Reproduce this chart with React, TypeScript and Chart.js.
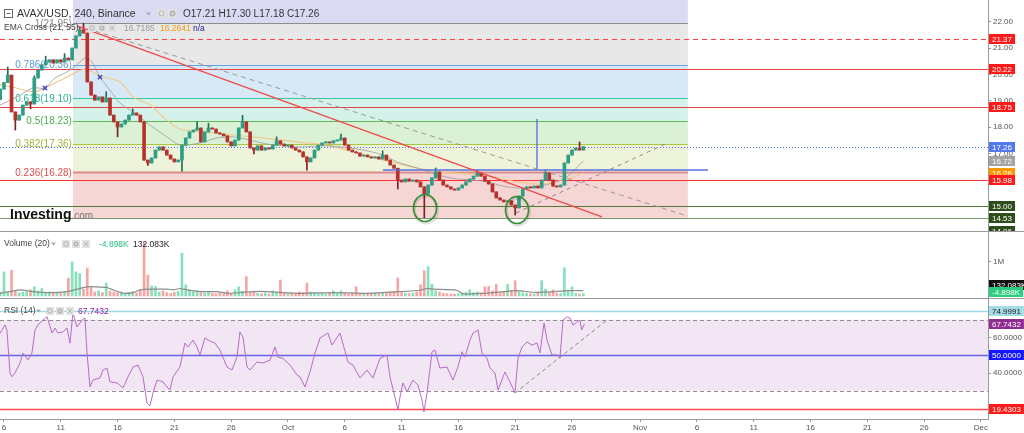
import React, { useEffect, useRef } from "react";
import { Chart, registerables } from "chart.js";
Chart.register(...registerables);

// ---------------- DATA ----------------
// time axis: days counted from Sep 6 (00:00)
const dateTickDays = [0, 5, 10, 15, 20, 25, 30, 35, 40, 45, 50, 56, 61, 66, 71, 76, 81, 86];
const dateTickLabels = ["6", "11", "16", "21", "26", "Oct", "6", "11", "16", "21", "26", "Nov", "6", "11", "16", "21", "26", "Dec"];

// candles (8h bars)
const firstCandleDay = -1 / 3;
const candleStepDays = 1 / 3;
const firstOpen = 19.05;
const closes = [
  19.45, 19.70, 19.98, 18.58, 18.27, 18.46, 18.84, 18.96, 18.88, 19.87,
  20.17, 20.37, 20.48, 20.56, 20.44, 20.56, 20.48, 20.63, 20.56, 21.01,
  21.47, 21.70, 21.58, 19.72, 19.22, 19.03, 19.15, 18.96, 19.11, 18.46,
  18.20, 18.01, 18.12, 18.27, 18.46, 18.54, 18.46, 18.20, 16.75, 16.64,
  16.83, 17.13, 17.25, 17.13, 16.94, 16.79, 16.68, 16.75, 17.32, 17.59,
  17.82, 17.89, 17.97, 17.44, 17.82, 17.97, 17.93, 17.78, 17.74, 17.67,
  17.44, 17.29, 17.51, 17.97, 18.20, 17.82, 17.21, 17.13, 17.29, 17.13,
  17.21, 17.17, 17.32, 17.48, 17.36, 17.29, 17.32, 17.21, 17.13, 17.06,
  16.87, 16.68, 16.83, 17.13, 17.32, 17.40, 17.44, 17.40, 17.48, 17.51,
  17.59, 17.32, 17.13, 17.06, 17.02, 16.90, 16.94, 16.87, 16.83, 16.87,
  16.79, 16.94, 16.75, 16.56, 16.44, 15.99, 15.92, 16.03, 15.95, 15.99,
  15.92, 15.73, 15.46, 15.80, 16.07, 16.30, 15.99, 15.80, 15.73, 15.65,
  15.61, 15.69, 15.80, 15.92, 16.03, 16.14, 16.26, 16.14, 15.95, 15.84,
  15.54, 15.31, 15.23, 15.16, 15.20, 15.04, 14.93, 15.38, 15.65, 15.73,
  15.69, 15.76, 15.69, 15.99, 16.26, 15.99, 15.76, 15.73, 15.80, 16.64,
  16.94, 17.13, 17.21, 17.13, 17.26,
];
const wickHighIdx = [2, 9, 12, 17, 21, 22, 28, 35, 52, 55, 64, 73, 90, 101, 115, 126, 144, 153];
const wickHighVal = [20.29, 19.95, 20.70, 20.80, 21.80, 21.95, 19.35, 18.70, 18.20, 18.15, 18.45, 17.63, 17.74, 17.10, 16.45, 16.37, 16.37, 17.44];
const wickLowIdx = [4, 8, 31, 39, 48, 67, 81, 105, 112, 136];
const wickLowVal = [17.89, 18.70, 17.63, 16.55, 16.33, 16.98, 16.37, 15.65, 14.55, 14.66];

// volume (millions) per bar
const volumes = [
  0.12, 0.71, 0.10, 0.76, 0.14, 0.09, 0.11, 0.13, 0.18, 0.27,
  0.15, 0.22, 0.10, 0.12, 0.08, 0.11, 0.09, 0.13, 0.53, 1.00,
  0.71, 0.66, 0.20, 0.82, 0.25, 0.12, 0.15, 0.10, 0.38, 0.14,
  0.11, 0.09, 0.12, 0.08, 0.10, 0.13, 0.09, 0.16, 1.56, 0.62,
  0.30, 0.28, 0.12, 0.15, 0.10, 0.08, 0.11, 0.14, 1.26, 0.33,
  0.18, 0.12, 0.15, 0.10, 0.09, 0.11, 0.08, 0.07, 0.09, 0.06,
  0.15, 0.08, 0.18, 0.27, 0.14, 0.57, 0.10, 0.12, 0.08, 0.07,
  0.09, 0.06, 0.15, 0.10, 0.47, 0.08, 0.07, 0.09, 0.06, 0.12,
  0.10, 0.38, 0.12, 0.09, 0.07, 0.08, 0.06, 0.09, 0.15, 0.07,
  0.15, 0.08, 0.06, 0.09, 0.27, 0.07, 0.05, 0.08, 0.06, 0.09,
  0.07, 0.10, 0.08, 0.12, 0.14, 0.53, 0.10, 0.08, 0.07, 0.09,
  0.12, 0.33, 0.74, 0.86, 0.35, 0.15, 0.12, 0.08, 0.07, 0.06,
  0.05, 0.07, 0.09, 0.11, 0.18, 0.10, 0.12, 0.09, 0.27, 0.28,
  0.15, 0.34, 0.10, 0.12, 0.34, 0.16, 0.45, 0.12, 0.09, 0.08,
  0.07, 0.06, 0.09, 0.45, 0.20, 0.10, 0.18, 0.08, 0.07, 0.83,
  0.15, 0.27, 0.08, 0.06, 0.07,
];
const volMaDays = [-0.35, 0.53, 1.41, 2.55, 4.05, 5.55, 6.43, 7.31, 8.19, 9.07, 9.6, 10.48, 11.36, 11.97, 12.85, 14.35, 14.88, 15.49, 16.11, 17.25, 18.75, 19.63, 20.77, 21.92, 23.15, 24.56, 26.06, 28.96, 31.95, 34.86, 36.62, 37.24, 37.77, 39.87, 40.41, 42.17, 43.66, 45.16, 46.57, 48.06, 49.56, 51.0];
const volMa = [0.08, 0.13, 0.18, 0.13, 0.10, 0.13, 0.20, 0.27, 0.27, 0.25, 0.18, 0.08, 0.10, 0.18, 0.20, 0.20, 0.18, 0.22, 0.18, 0.13, 0.13, 0.08, 0.10, 0.13, 0.13, 0.10, 0.08, 0.10, 0.08, 0.13, 0.17, 0.22, 0.20, 0.17, 0.06, 0.08, 0.12, 0.16, 0.11, 0.12, 0.16, 0.16];

// EMA cross (21, 55)
const emaFastDays = [-0.35, 1.14, 2.55, 3.61, 4.49, 5.55, 6.43, 7.13, 7.75, 8.45, 9.33, 10.21, 11.36, 12.85, 14.35, 15.49, 17.25, 18.75, 20.16, 21.65, 23.15, 24.56, 26.06, 28.7, 31.6, 33.36, 34.6, 36.36, 39.26, 42.17, 44.28, 46.04, 48.33, 49.56, 51.0];
const emaFast = [18.84, 19.15, 19.49, 19.49, 19.87, 20.10, 20.37, 20.63, 20.48, 19.90, 19.41, 18.92, 18.58, 18.08, 17.63, 17.32, 17.40, 17.59, 17.63, 17.51, 17.36, 17.29, 17.25, 17.29, 17.13, 16.94, 16.68, 16.45, 16.07, 15.95, 15.73, 15.69, 15.88, 16.11, 16.72];
const emaSlowDays = [-0.35, 1.0, 2.55, 3.61, 5.55, 7.13, 8.45, 10.21, 11.36, 12.85, 14.0, 15.49, 18.4, 22.8, 25.79, 28.7, 33.36, 37.76, 42.17, 45.16, 47.18, 49.56, 51.0];
const emaSlow = [19.60, 19.50, 19.34, 19.49, 19.91, 20.21, 19.95, 19.72, 19.15, 18.85, 18.39, 17.93, 17.78, 17.59, 17.44, 17.29, 16.75, 16.33, 16.18, 15.92, 15.84, 16.03, 16.26];
const crossDays = [3.61, 8.45];
const crossValues = [19.49, 19.90];

// RSI (14)
const rsiDays = [-0.35, 0.09, 0.26, 0.53, 0.7, 0.97, 1.41, 1.67, 2.11, 2.46, 2.73, 2.99, 3.43, 3.79, 4.23, 4.49, 4.75, 5.19, 5.55, 5.81, 6.07, 6.43, 6.87, 7.13, 7.31, 7.57, 7.83, 8.45, 8.71, 9.07, 9.33, 9.95, 10.48, 10.92, 11.36, 11.8, 12.24, 12.59, 12.85, 13.12, 13.47, 14.0, 14.35, 14.61, 14.88, 15.49, 15.93, 16.2, 16.64, 16.99, 17.25, 17.69, 18.13, 18.57, 19.01, 19.63, 20.07, 20.51, 20.77, 21.04, 21.39, 21.65, 22.27, 22.8, 23.42, 23.86, 24.12, 24.56, 25.18, 25.79, 26.06, 26.5, 26.94, 27.38, 27.82, 28.52, 28.87, 29.58, 30.28, 30.72, 31.34, 31.95, 32.48, 33.1, 33.71, 33.98, 34.42, 34.68, 34.86, 35.12, 35.48, 36.0, 36.44, 36.8, 36.97, 37.24, 37.68, 37.94, 38.38, 39.0, 39.52, 39.96, 40.32, 40.58, 41.02, 41.29, 41.73, 42.08, 42.52, 42.78, 43.22, 43.49, 44.1, 44.54, 44.98, 45.25, 45.6, 46.04, 46.48, 46.92, 47.18, 47.54, 47.8, 48.24, 48.68, 48.94, 49.21, 49.56, 49.83, 50.09, 50.4, 50.7, 50.85, 51.1];
const rsiValues = [62.4, 67.1, 64.3, 40.0, 37.9, 40.0, 45.6, 51.3, 47.3, 51.3, 64.3, 67.1, 69.9, 71.8, 62.6, 65.4, 62.6, 63.2, 65.4, 56.9, 73.9, 66.0, 69.9, 71.1, 51.3, 32.1, 36.0, 37.2, 41.7, 42.8, 35.0, 34.4, 31.6, 37.8, 43.4, 44.5, 37.8, 23.0, 21.4, 28.7, 36.0, 35.0, 32.1, 30.4, 37.8, 43.4, 56.9, 54.7, 58.6, 54.7, 50.2, 59.8, 58.0, 56.9, 53.0, 43.4, 41.7, 49.0, 63.2, 60.3, 43.4, 41.7, 46.2, 45.6, 47.3, 54.7, 49.0, 48.3, 44.5, 38.9, 37.8, 32.1, 40.6, 51.3, 59.8, 62.6, 55.8, 62.6, 46.2, 44.5, 37.2, 41.7, 37.2, 48.3, 50.2, 37.8, 26.4, 19.1, 26.4, 34.4, 29.3, 36.0, 33.2, 24.7, 18.0, 28.7, 52.0, 53.0, 42.8, 43.4, 36.0, 43.4, 52.0, 49.0, 58.6, 62.6, 64.3, 51.3, 48.3, 42.8, 40.0, 30.4, 40.6, 35.0, 28.7, 48.3, 54.7, 57.5, 55.8, 56.9, 51.3, 68.2, 58.6, 50.2, 50.2, 48.3, 69.9, 71.8, 71.0, 67.1, 68.5, 69.9, 64.3, 67.74];
const rsiTrendDays = [44.98, 53.08];
const rsiTrendValues = [28.7, 69.9];
const rsiLegendValue = "67.7432";

// Fibonacci retracement
const fibStartDay = 6.07;
const fibEndDay = 60.2;
const fibPrices = [21.95, 20.36, 19.10, 18.23, 17.36, 16.28, 14.53];
const fibLabels = ["1(21.95)", "0.786(20.36)", "0.618(19.10)", "0.5(18.23)", "0.382(17.36)", "0.236(16.28)", ""];

// drawings
const hLineValues = [21.37, 20.22, 18.75, 15.98, 15.0, 14.53];
const priceLineValue = 17.26;
const redTrendDays = [6.43, 52.64];
const redTrendPrices = [21.85, 14.59];
const grayTrendDays = [8.01, 60.21];
const grayTrendPrices = [21.66, 14.62];
const upTrendDays = [45.07, 58.36];
const upTrendPrices = [14.74, 17.39];
const blueHDays = [33.36, 61.97];
const blueHPrices = [16.37, 16.37];
const blueVDays = [46.92, 46.92];
const blueVPrices = [18.31, 16.37];
const circleDays = [37.06, 45.16];
const circlePrices = [14.93, 14.85];

// axis labels
const priceTicks = [15, 16, 17, 18, 19, 20, 21, 22];
const priceMarks = [21.37, 20.22, 18.75, 17.26, 16.72, 16.26, 15.98, 15.0, 14.53, 14.06];
const volTicks = [1];
const rsiTicks = [40, 50, 60];
const rsiMarks = [74.9991, 67.7432, 50.0, 19.4303];
const volLegendChange = "-4.898K";
const volLegendValue = "132.083K";
const ohlcText = "O17.21 H17.30 L17.18 C17.26";
const emaLegendValues = ["16.7185", "16.2641", "n/a"];

// ---------------- STYLE ----------------
const FONT = "'Liberation Sans', Arial, sans-serif";
const X_MIN = -0.35;
const X_MAX = 86.62;
const AXIS_W = 36;
const UP = "#2e9d86";
const DOWN = "#b8322d";
const UP_W = "#1e6e5f";
const DOWN_W = "#7e2020";

const candleTimes = closes.map((_, i) => firstCandleDay + i * candleStepDays);
const opens = closes.map((c, i) => (i === 0 ? firstOpen : closes[i - 1]));
const highs = closes.map((c, i) => Math.max(c, opens[i]));
const lows = closes.map((c, i) => Math.min(c, opens[i]));
wickHighIdx.forEach((idx, k) => (highs[idx] = Math.max(highs[idx], wickHighVal[k])));
wickLowIdx.forEach((idx, k) => (lows[idx] = Math.min(lows[idx], wickLowVal[k])));
const isUp = closes.map((c, i) => c >= opens[i]);

const pts = (xs: number[], ys: number[]) => xs.map((x, i) => ({ x, y: ys[i] }));

function xScale(show: boolean): any {
  return {
    type: "linear",
    min: X_MIN,
    max: X_MAX,
    offset: false,
    display: show,
    afterBuildTicks: (s: any) => {
      s.ticks = dateTickDays.map((v) => ({ value: v }));
    },
    afterFit: (s: any) => {
      s.height = show ? 14 : 0;
      s.paddingLeft = 0;
      s.paddingRight = 0;
    },
    ticks: {
      autoSkip: false,
      maxRotation: 0,
      padding: 1,
      color: "#555",
      font: { size: 8, family: FONT },
      callback: (_v: any, i: number) => dateTickLabels[i],
    },
    grid: { drawOnChartArea: false, tickLength: 3, color: "#999" },
    border: { color: "#999" },
  };
}

function yScale(min: number, max: number, ticks: number[], fmt: (v: number) => string): any {
  return {
    type: "linear",
    position: "right",
    min,
    max,
    afterBuildTicks: (s: any) => {
      s.ticks = ticks.map((v) => ({ value: v }));
    },
    afterFit: (s: any) => {
      s.width = AXIS_W;
      s.paddingTop = 0;
      s.paddingBottom = 0;
    },
    ticks: { color: "#555", padding: 2, font: { size: 8, family: FONT }, callback: (v: any) => fmt(Number(v)) },
    grid: { drawOnChartArea: false, tickLength: 3, color: "#999" },
    border: { color: "#999" },
  };
}

function axisBox(ctx: any, chart: any, y: number, text: string, bg: string, fg: string) {
  ctx.font = `8px ${FONT}`;
  const w = ctx.measureText(text).width + 6;
  const x = chart.chartArea.right + 1;
  ctx.fillStyle = bg;
  ctx.fillRect(x, Math.round(y) - 5, w, 10);
  ctx.fillStyle = fg;
  ctx.textAlign = "left";
  ctx.textBaseline = "middle";
  ctx.fillText(text, x + 3, Math.round(y) + 0.5);
}

function icon(ctx: any, x: number, y: number, kind: string, s = 9) {
  ctx.fillStyle = "#e2e2e2";
  ctx.fillRect(x, y, s, s);
  ctx.strokeStyle = "#b3b3b3";
  ctx.fillStyle = "#b3b3b3";
  ctx.lineWidth = 1;
  const cx = x + s / 2;
  const cy = y + s / 2;
  ctx.beginPath();
  if (kind === "eye") {
    ctx.arc(cx, cy, s * 0.28, 0, Math.PI * 2);
    ctx.stroke();
  } else if (kind === "gear") {
    ctx.arc(cx, cy, s * 0.32, 0, Math.PI * 2);
    ctx.fill();
    ctx.beginPath();
    ctx.fillStyle = "#e2e2e2";
    ctx.arc(cx, cy, s * 0.13, 0, Math.PI * 2);
    ctx.fill();
  } else {
    ctx.moveTo(x + 2, y + 2);
    ctx.lineTo(x + s - 2, y + s - 2);
    ctx.moveTo(x + s - 2, y + 2);
    ctx.lineTo(x + 2, y + s - 2);
    ctx.stroke();
  }
}

function caret(ctx: any, x: number, y: number) {
  ctx.fillStyle = "#aaa";
  ctx.beginPath();
  ctx.moveTo(x, y - 1.5);
  ctx.lineTo(x + 5, y - 1.5);
  ctx.lineTo(x + 2.5, y + 1.5);
  ctx.closePath();
  ctx.fill();
}

function text(ctx: any, s: string, x: number, y: number, color: string, size: number, weight = "normal", align = "left") {
  ctx.font = `${weight} ${size}px ${FONT}`;
  ctx.fillStyle = color;
  ctx.textAlign = align;
  ctx.textBaseline = "middle";
  ctx.fillText(s, x, y);
}

function hline(ctx: any, area: any, y: number, color: string, width: number, dash: number[], x0?: number, x1?: number) {
  ctx.save();
  ctx.strokeStyle = color;
  ctx.lineWidth = width;
  ctx.setLineDash(dash);
  ctx.beginPath();
  const yy = Math.round(y) + 0.5;
  ctx.moveTo(x0 ?? area.left, yy);
  ctx.lineTo(x1 ?? area.right, yy);
  ctx.stroke();
  ctx.restore();
}

const basePlugins = { legend: { display: false }, tooltip: { enabled: false } };
const baseLayout = { padding: 0, autoPadding: false };

export default function App() {
  const mainRef = useRef<HTMLCanvasElement>(null);
  const volRef = useRef<HTMLCanvasElement>(null);
  const rsiRef = useRef<HTMLCanvasElement>(null);

  useEffect(() => {
    const charts: any[] = [];

    // ---------- MAIN PRICE PANE ----------
    const zoneColors = ["#dadaf3", "#e8e8e8", "#d7e9f6", "#d5f2ea", "#daf1d6", "#eef4da", "#f6d5d5"];
    const fibLineColors = ["#8c8c8c", "#62a3dc", "#3cc4a2", "#5cba52", "#a9c93e", "#d98c8c", "#8c8c8c"];
    const fibTextColors = ["#888", "#5b9bd5", "#2bb394", "#4caf50", "#9ab83a", "#e05050", "#888"];
    const hLineColors = ["#ff4040", "#e84444", "#e84444", "#ff3030", "#4f7a36", "#7b9a6b"];
    const hLineDash = [[5, 4], [], [], [], [], []];
    const markColors = ["#ff1a1a", "#ff1a1a", "#ff1a1a", "#5279f0", "#a3a3a3", "#ff9800", "#ff1a1a", "#2d4d1d", "#2d4d1d", "#2d4d1d"];

    const mainPlugin = {
      id: "mainDeco",
      beforeDatasetsDraw(chart: any) {
        const { ctx, chartArea: a, scales } = chart;
        const xs = scales.x;
        const ys = scales.y;
        ctx.save();
        ctx.beginPath();
        ctx.rect(a.left, a.top, a.right - a.left, a.bottom - a.top);
        ctx.clip();
        const fx0 = xs.getPixelForValue(fibStartDay);
        const fx1 = xs.getPixelForValue(fibEndDay);
        const yTop = ys.getPixelForValue(fibPrices[0]);
        ctx.fillStyle = zoneColors[0];
        ctx.fillRect(fx0, a.top, fx1 - fx0, yTop - a.top);
        for (let k = 0; k < fibPrices.length - 1; k++) {
          const y0 = ys.getPixelForValue(fibPrices[k]);
          const y1 = ys.getPixelForValue(fibPrices[k + 1]);
          ctx.fillStyle = zoneColors[k + 1];
          ctx.fillRect(fx0, y0, fx1 - fx0, y1 - y0);
        }
        fibPrices.forEach((p, k) => {
          hline(ctx, a, ys.getPixelForValue(p), fibLineColors[k], k === 5 ? 2 : 1, [], fx0, fx1);
        });
        fibLabels.forEach((l, k) => {
          if (l) text(ctx, l, fx0 - 1, ys.getPixelForValue(fibPrices[k]) + 0.5, fibTextColors[k], 10, "normal", "right");
        });
        hLineValues.forEach((v, k) => hline(ctx, a, ys.getPixelForValue(v), hLineColors[k], 1, hLineDash[k]));
        hline(ctx, a, ys.getPixelForValue(priceLineValue), "#4a6cf0", 1, [1, 2]);
        ctx.restore();
      },
      afterDatasetsDraw(chart: any) {
        const { ctx, scales } = chart;
        const xs = scales.x;
        const ys = scales.y;
        ctx.save();
        circleDays.forEach((d, k) => {
          const cx = xs.getPixelForValue(d);
          const cy = ys.getPixelForValue(circlePrices[k]);
          ctx.strokeStyle = "rgba(0,0,0,0.12)";
          ctx.lineWidth = 3;
          ctx.beginPath();
          ctx.ellipse(cx + 1, cy + 1.5, 11.5, 13.5, 0, 0, Math.PI * 2);
          ctx.stroke();
          ctx.strokeStyle = "#2f8f2f";
          ctx.lineWidth = 1.6;
          ctx.beginPath();
          ctx.ellipse(cx, cy, 11.5, 13.5, 0, 0, Math.PI * 2);
          ctx.stroke();
        });
        text(ctx, "Investing", 10, 215, "#111", 14, "bold");
        ctx.font = `bold 14px ${FONT}`;
        const w = ctx.measureText("Investing").width;
        text(ctx, ".com", 10 + w, 216, "#777", 10);
        ctx.restore();
      },
      afterDraw(chart: any) {
        const { ctx, chartArea: a, scales } = chart;
        const ys = scales.y;
        ctx.save();
        priceMarks.forEach((v, k) => axisBox(ctx, chart, ys.getPixelForValue(v), v.toFixed(2), markColors[k], "#fff"));
        ctx.strokeStyle = "#666";
        ctx.lineWidth = 1;
        ctx.strokeRect(4.5, 9.5, 8, 8);
        ctx.beginPath();
        ctx.moveTo(6.5, 13.5);
        ctx.lineTo(10.5, 13.5);
        ctx.stroke();
        text(ctx, "AVAX/USD, 240, Binance", 17, 14, "#333", 10.5);
        caret(ctx, 146, 14);
        icon(ctx, 157, 9, "eye");
        icon(ctx, 168, 9, "gear");
        text(ctx, ohlcText, 183, 14, "#333", 10);
        text(ctx, "EMA Cross (21, 55)", 4, 28, "#444", 8.5);
        icon(ctx, 88, 24, "eye", 8);
        icon(ctx, 98, 24, "gear", 8);
        icon(ctx, 108, 24, "close", 8);
        text(ctx, emaLegendValues[0], 124, 28.5, "#999", 8.5);
        text(ctx, emaLegendValues[1], 160, 28.5, "#f39c12", 8.5);
        text(ctx, emaLegendValues[2], 193, 28.5, "#20208f", 8.5);
        ctx.strokeStyle = "#9a9a9a";
        ctx.beginPath();
        ctx.moveTo(0, a.bottom - 0.5);
        ctx.lineTo(1024, a.bottom - 0.5);
        ctx.stroke();
        ctx.restore();
      },
    };

    const lineDs = (data: any[], color: string, width: number, dash: number[], order: number, extra: any = {}) => ({
      type: "line",
      data,
      borderColor: color,
      borderWidth: width,
      borderDash: dash,
      pointRadius: 0,
      fill: false,
      order,
      ...extra,
    });

    if (mainRef.current) {
      charts.push(
        new Chart(mainRef.current, {
          type: "bar",
          data: {
            datasets: [
              {
                type: "bar",
                data: candleTimes.map((t, i) => ({ x: t, y: [opens[i], closes[i]] })),
                backgroundColor: isUp.map((u) => (u ? UP : DOWN)),
                barThickness: 3,
                minBarLength: 1,
                grouped: false,
                order: 3,
              } as any,
              {
                type: "bar",
                data: candleTimes.map((t, i) => ({ x: t, y: [lows[i], highs[i]] })),
                backgroundColor: isUp.map((u) => (u ? UP_W : DOWN_W)),
                barThickness: 1,
                grouped: false,
                order: 4,
              } as any,
              lineDs(pts(emaFastDays, emaFast), "rgba(160,160,160,0.85)", 1, [], 5, { tension: 0.3 }),
              lineDs(pts(emaSlowDays, emaSlow), "#f2c88c", 1.2, [], 6, { tension: 0.3 }),
              lineDs(pts(redTrendDays, redTrendPrices), "#f04848", 1.2, [], 2),
              lineDs(pts(grayTrendDays, grayTrendPrices), "#9a9a9a", 1, [5, 4], 2),
              lineDs(pts(upTrendDays, upTrendPrices), "#8a8a8a", 1, [4, 4], 2),
              lineDs(pts(blueHDays, blueHPrices), "#5a6fe0", 1.5, [], 2),
              lineDs(pts(blueVDays, blueVPrices), "#4a62d8", 1.2, [], 2),
              {
                type: "line",
                data: pts(crossDays, crossValues),
                showLine: false,
                pointStyle: "crossRot",
                pointRadius: 3,
                pointBorderColor: "#4d4dcc",
                pointBorderWidth: 1.5,
                order: 1,
              } as any,
            ] as any,
          },
          options: {
            animation: false,
            responsive: true,
            maintainAspectRatio: false,
            events: [],
            layout: baseLayout,
            plugins: basePlugins as any,
            scales: {
              x: xScale(false),
              y: yScale(14.015, 22.836, priceTicks, (v) => v.toFixed(2)),
            },
          },
          plugins: [mainPlugin],
        } as any)
      );
    }

    // ---------- VOLUME PANE ----------
    const volPlugin = {
      id: "volDeco",
      afterDraw(chart: any) {
        const { ctx, chartArea: a, scales } = chart;
        const ys = scales.y;
        ctx.save();
        axisBox(ctx, chart, ys.getPixelForValue(0.132083) - 6.5, volLegendValue, "#111", "#fff");
        axisBox(ctx, chart, ys.getPixelForValue(-0.004898) - 4, volLegendChange, "#2ecc80", "#fff");
        text(ctx, "Volume (20)", 4, 12, "#444", 8.5);
        caret(ctx, 51, 12);
        icon(ctx, 62, 8, "eye", 8);
        icon(ctx, 72, 8, "gear", 8);
        icon(ctx, 82, 8, "close", 8);
        text(ctx, volLegendChange, 99, 12.5, "#26c281", 8.5);
        text(ctx, volLegendValue, 133, 12.5, "#222", 8.5);
        ctx.strokeStyle = "#9a9a9a";
        ctx.lineWidth = 1;
        ctx.beginPath();
        ctx.moveTo(0, a.bottom - 0.5);
        ctx.lineTo(1024, a.bottom - 0.5);
        ctx.stroke();
        ctx.restore();
      },
    };
    if (volRef.current) {
      charts.push(
        new Chart(volRef.current, {
          type: "bar",
          data: {
            datasets: [
              lineDs(pts(volMaDays, volMa), "#8c8c8c", 1.2, [], 1, { tension: 0.2 }),
              {
                type: "bar",
                data: candleTimes.map((t, i) => ({ x: t, y: volumes[i] })),
                backgroundColor: isUp.map((u) => (u ? "#86e0b9" : "#f7a5a3")),
                barThickness: 2,
                grouped: false,
                order: 2,
              },
            ] as any,
          },
          options: {
            animation: false,
            responsive: true,
            maintainAspectRatio: false,
            events: [],
            layout: baseLayout,
            plugins: basePlugins as any,
            scales: {
              x: xScale(false),
              y: yScale(-0.088, 1.882, volTicks, () => "1M"),
            },
          },
          plugins: [volPlugin],
        } as any)
      );
    }

    // ---------- RSI PANE ----------
    const rsiMarkBg = ["#a4dce6", "#8e2c91", "#1515ff", "#ff1a1a"];
    const rsiMarkFg = ["#222", "#fff", "#fff", "#fff"];
    const rsiPlugin = {
      id: "rsiDeco",
      beforeDatasetsDraw(chart: any) {
        const { ctx, chartArea: a, scales } = chart;
        const ys = scales.y;
        ctx.save();
        const y70 = ys.getPixelForValue(70);
        const y30 = ys.getPixelForValue(30);
        ctx.fillStyle = "#f2e5f4";
        ctx.fillRect(a.left, y70, a.right - a.left, y30 - y70);
        hline(ctx, a, y70, "#8f8f8f", 1, [4, 3]);
        hline(ctx, a, y30, "#8f8f8f", 1, [4, 3]);
        hline(ctx, a, ys.getPixelForValue(50), "#6464e6", 1.5, []);
        hline(ctx, a, ys.getPixelForValue(rsiMarks[0]), "#9fd9e4", 1.5, []);
        hline(ctx, a, ys.getPixelForValue(rsiMarks[3]), "#ff4a4a", 1.5, []);
        ctx.restore();
      },
      afterDraw(chart: any) {
        const { ctx, scales } = chart;
        const ys = scales.y;
        ctx.save();
        rsiMarks.forEach((v, k) => axisBox(ctx, chart, ys.getPixelForValue(v), v.toFixed(4), rsiMarkBg[k], rsiMarkFg[k]));
        text(ctx, "RSI (14)", 4, 12, "#444", 8.5);
        caret(ctx, 36, 12);
        icon(ctx, 46, 8, "eye", 8);
        icon(ctx, 56, 8, "gear", 8);
        icon(ctx, 66, 8, "close", 8);
        text(ctx, rsiLegendValue, 78, 12.5, "#8e24aa", 8.5);
        ctx.restore();
      },
    };
    if (rsiRef.current) {
      charts.push(
        new Chart(rsiRef.current, {
          type: "line",
          data: {
            datasets: [
              lineDs(pts(rsiDays, rsiValues), "#b66cc7", 1, [], 2),
              lineDs(pts(rsiTrendDays, rsiTrendValues), "#8a8a8a", 1, [4, 3], 1),
            ] as any,
          },
          options: {
            animation: false,
            responsive: true,
            maintainAspectRatio: false,
            events: [],
            layout: baseLayout,
            plugins: basePlugins as any,
            scales: {
              x: xScale(true),
              y: yScale(14.01, 81.81, rsiTicks, (v) => v.toFixed(4)),
            },
          },
          plugins: [rsiPlugin],
        } as any)
      );
    }

    return () => charts.forEach((c) => c.destroy());
  }, []);

  return (
    <div style={{ position: "fixed", left: 0, top: 0, width: 1024, height: 433, background: "#fff", overflow: "hidden" }}>
      <div style={{ position: "absolute", left: 0, top: 0, width: 1024, height: 232 }}>
        <canvas ref={mainRef} />
      </div>
      <div style={{ position: "absolute", left: 0, top: 232, width: 1024, height: 67 }}>
        <canvas ref={volRef} />
      </div>
      <div style={{ position: "absolute", left: 0, top: 299, width: 1024, height: 134 }}>
        <canvas ref={rsiRef} />
      </div>
    </div>
  );
}
